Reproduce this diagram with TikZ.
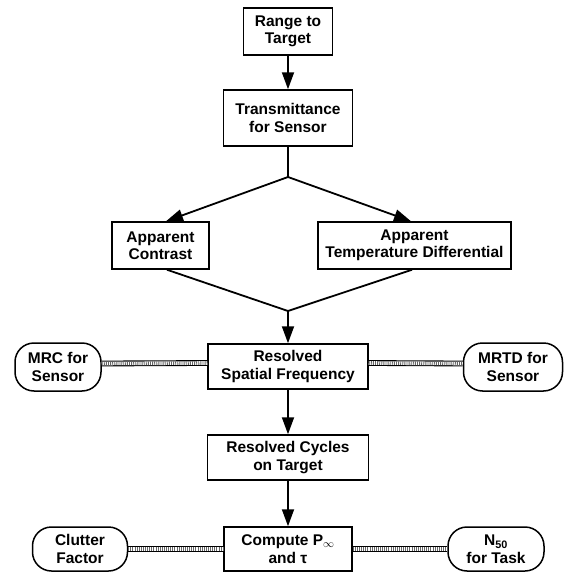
\documentclass[tikz,border=0pt]{standalone}
\usepackage{fontspec}
\setmainfont{Liberation Sans}
\usetikzlibrary{arrows.meta}
\begin{document}
\begin{tikzpicture}[x=1pt,y=-1pt,
  every node/.style={font=\bfseries\fontsize{15.5}{17.5}\selectfont, align=center, inner sep=0pt},
  procbox/.style={draw, line width=1.5pt, fill=white},
  inbubble/.style={draw, line width=1.5pt, fill=white, rounded corners=19pt},
  flow/.style={line width=1.8pt, -{Triangle[length=17pt,width=12pt]}},
  plain/.style={line width=1.8pt},
  linkband/.style={line width=5.8pt, draw=black,
    postaction={draw=white, line width=3.6pt},
    postaction={draw=black!60, line width=3.6pt, dash pattern=on 0.9pt off 1.2pt}}]
\useasboundingbox (0,0) rectangle (574,573);

% main column
\node[procbox, minimum width=89pt, minimum height=47pt] (rng) at (288,31.5) {Range to\\Target};
\node[procbox, minimum width=129pt, minimum height=56pt] (trans) at (288,118) {Transmittance\\for Sensor};
\coordinate (split) at (288,177);
\node[procbox, minimum width=97pt, minimum height=47pt] (ac) at (160.5,245.5) {Apparent\\Contrast};
\node[procbox, minimum width=193pt, minimum height=47pt] (td) at (414.5,245.5) {Apparent\\Temperature Differential};
\coordinate (merge) at (288,311);
\node[procbox, minimum width=160pt, minimum height=45pt] (rsf) at (288,366.5) {Resolved\\Spatial Frequency};
\node[procbox, minimum width=161pt, minimum height=45pt] (rc) at (288,457.5) {Resolved Cycles\\on Target};
\node[procbox, minimum width=128pt, minimum height=44pt] (cmp) at (288,549) {Compute P\textsubscript{$\infty$}\\and τ};

% side inputs
\node[inbubble, minimum width=86pt, minimum height=48pt] (mrc) at (58,367) {MRC for\\Sensor};
\node[inbubble, minimum width=99pt, minimum height=48pt] (mrtd) at (513,367) {MRTD for\\Sensor};
\node[inbubble, minimum width=95pt, minimum height=44pt] (clut) at (80,549) {Clutter\\Factor};
\node[inbubble, minimum width=96pt, minimum height=44pt] (nfif) at (496,549) {N\textsubscript{50}\\for Task};

% connectors
\draw[flow] (rng) -- (trans);
\draw[plain] (trans) -- (split);
\draw[flow] (split) -- (ac.north -| 166,0);
\draw[flow] (split) -- (td.north -| 411,0);
\draw[plain] (ac.south -| 167,0) -- (merge);
\draw[plain] (td.south -| 412,0) -- (merge);
\draw[flow] (merge) -- (rsf);
\draw[flow] (rsf) -- (rc);
\draw[flow] (rc) -- (cmp);

% coupling bands
\draw[linkband] ([yshift=3.5pt]mrc.east) -- ([yshift=3.5pt]rsf.west);
\draw[linkband] ([yshift=3.5pt]rsf.east) -- ([yshift=3.5pt]mrtd.west);
\draw[linkband] (clut.east) -- (cmp.west);
\draw[linkband] (cmp.east) -- (nfif.west);
\end{tikzpicture}
\end{document}
